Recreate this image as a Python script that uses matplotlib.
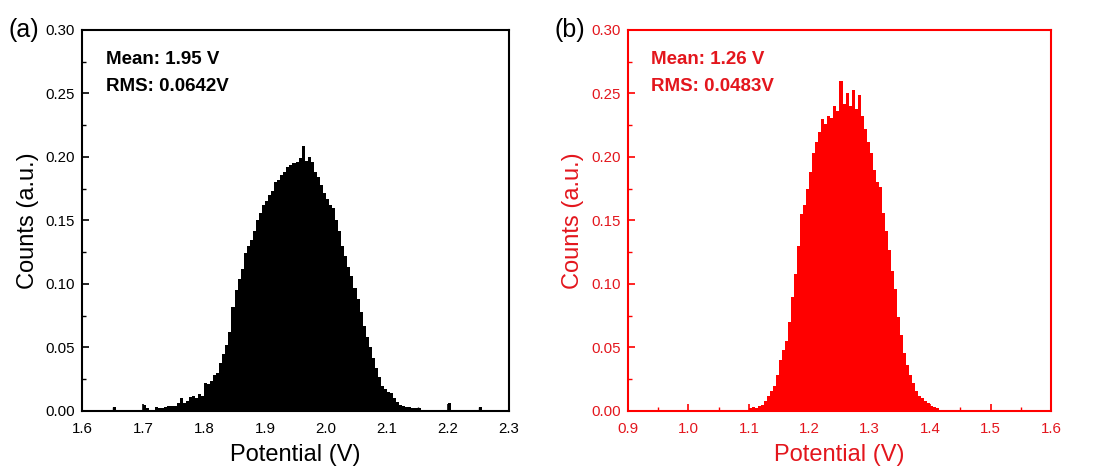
import numpy as np
import matplotlib.pyplot as plt
from matplotlib.ticker import MultipleLocator, FormatStrFormatter

plt.rcParams['font.family'] = ['Liberation Sans', 'DejaVu Sans']

# bin step of the digitised histograms (V)
step = 0.005

# panel (a): potential histogram, bins from 1.600 V to 2.300 V
counts_a = [
    # 1.600 - 1.695
    0, 0, 0, 0, 0, 0, 0, 0, 0, 0, 0.003, 0, 0.001, 0, 0.001, 0, 0.001, 0, 0, 0,
    # 1.700 - 1.795
    0.005, 0.002, 0.001, 0.001, 0.003, 0.002, 0.002, 0.003, 0.004, 0.004,
    0.004, 0.006, 0.010, 0.006, 0.008, 0.011, 0.012, 0.010, 0.013, 0.012,
    # 1.800 - 1.895
    0.022, 0.021, 0.024, 0.028, 0.030, 0.038, 0.045, 0.052, 0.062, 0.082,
    0.095, 0.104, 0.112, 0.124, 0.130, 0.135, 0.142, 0.150, 0.156, 0.162,
    # 1.900 - 1.995
    0.165, 0.170, 0.173, 0.180, 0.182, 0.186, 0.188, 0.192, 0.194, 0.195,
    0.196, 0.199, 0.209, 0.197, 0.200, 0.196, 0.188, 0.184, 0.178, 0.172,
    # 2.000 - 2.095
    0.167, 0.162, 0.160, 0.150, 0.142, 0.130, 0.122, 0.113, 0.106, 0.097,
    0.088, 0.078, 0.067, 0.058, 0.050, 0.042, 0.034, 0.027, 0.020, 0.017,
    # 2.100 - 2.195
    0.015, 0.014, 0.010, 0.007, 0.005, 0.004, 0.003, 0.003, 0.002, 0.002,
    0.002, 0.001, 0.001, 0.001, 0.001, 0.001, 0.0005, 0.0005, 0, 0,
    # 2.200 - 2.295
    0.006, 0, 0, 0, 0, 0, 0, 0, 0, 0,
    0.003, 0, 0, 0, 0, 0, 0, 0, 0, 0,
]
start_a = 1.6

# panel (b): potential histogram, bins from 0.900 V to 1.600 V
counts_b = [
    # 0.900 - 1.095
    0, 0, 0, 0, 0, 0, 0, 0, 0, 0, 0, 0, 0, 0, 0, 0, 0, 0, 0, 0,
    0, 0, 0, 0, 0, 0, 0, 0, 0, 0, 0, 0, 0, 0, 0, 0, 0, 0, 0.001, 0.001,
    # 1.100 - 1.195
    0.002, 0.003, 0.002, 0.004, 0.005, 0.008, 0.012, 0.016, 0.020, 0.028,
    0.040, 0.048, 0.055, 0.070, 0.090, 0.108, 0.130, 0.155, 0.162, 0.175,
    # 1.200 - 1.295
    0.188, 0.203, 0.212, 0.220, 0.230, 0.226, 0.232, 0.231, 0.240, 0.236,
    0.260, 0.242, 0.250, 0.240, 0.253, 0.238, 0.249, 0.232, 0.222, 0.212,
    # 1.300 - 1.395
    0.203, 0.190, 0.180, 0.176, 0.156, 0.142, 0.127, 0.110, 0.096, 0.074,
    0.060, 0.046, 0.036, 0.028, 0.022, 0.016, 0.012, 0.010, 0.008, 0.006,
    # 1.400 - 1.495
    0.004, 0.003, 0.002, 0.001, 0.001, 0.001, 0.001, 0, 0, 0,
    0, 0, 0, 0, 0, 0, 0, 0, 0, 0,
    # 1.500 - 1.595
    0, 0, 0, 0, 0, 0, 0, 0, 0, 0,
    0, 0, 0, 0, 0, 0, 0, 0, 0, 0,
]
start_b = 0.9

panels = [
    dict(counts=counts_a, start=start_a, xlim=(1.6, 2.3), color='black',
         text_color='black', tag='(a)', mean='Mean: 1.95 V', rms='RMS: 0.0642V',
         rect=[0.0741, 0.1237, 0.3857, 0.8124]),
    dict(counts=counts_b, start=start_b, xlim=(0.9, 1.6), color='#ff0000',
         text_color='#e3161d', tag='(b)', mean='Mean: 1.26 V', rms='RMS: 0.0483V',
         rect=[0.5673, 0.1237, 0.3821, 0.8124]),
]

fig = plt.figure(figsize=(11.07, 4.69), dpi=100)

for p in panels:
    ax = fig.add_axes(p['rect'])
    h = np.array(p['counts'])
    x = p['start'] + step * np.arange(len(h))
    ax.bar(x, h, width=step, align='edge', color=p['color'], linewidth=0)

    ax.set_xlim(*p['xlim'])
    ax.set_ylim(0, 0.30)
    ax.xaxis.set_major_locator(MultipleLocator(0.1))
    ax.xaxis.set_minor_locator(MultipleLocator(0.05))
    ax.yaxis.set_major_locator(MultipleLocator(0.05))
    ax.yaxis.set_minor_locator(MultipleLocator(0.025))
    ax.xaxis.set_major_formatter(FormatStrFormatter('%.1f'))
    ax.yaxis.set_major_formatter(FormatStrFormatter('%.2f'))

    tc = p['text_color']
    ax.tick_params(which='both', direction='in', top=False, right=False,
                   color=p['color'], labelcolor=tc, labelsize=10.8)
    ax.tick_params(axis='x', pad=8)
    ax.tick_params(axis='y', pad=5)
    ax.tick_params(which='major', length=5, width=1.2)
    ax.tick_params(which='minor', length=3, width=1.0)
    for s in ax.spines.values():
        s.set_color(p['color'])
        s.set_linewidth(1.5)

    ax.set_xlabel('Potential (V)', fontsize=17, color=tc, labelpad=6)
    ax.set_ylabel('Counts (a.u.)', fontsize=17, color=tc, labelpad=5)

    ax.text(0.055, 0.945, p['mean'], transform=ax.transAxes, fontsize=13.5,
            fontweight='bold', color=tc, va='top')
    ax.text(0.055, 0.875, p['rms'], transform=ax.transAxes, fontsize=13.5,
            fontweight='bold', color=tc, va='top')
    ax.text(-0.173, 1.0, p['tag'], transform=ax.transAxes, fontsize=18,
            color='black', va='center')

fig.savefig('out.png', dpi=100)
